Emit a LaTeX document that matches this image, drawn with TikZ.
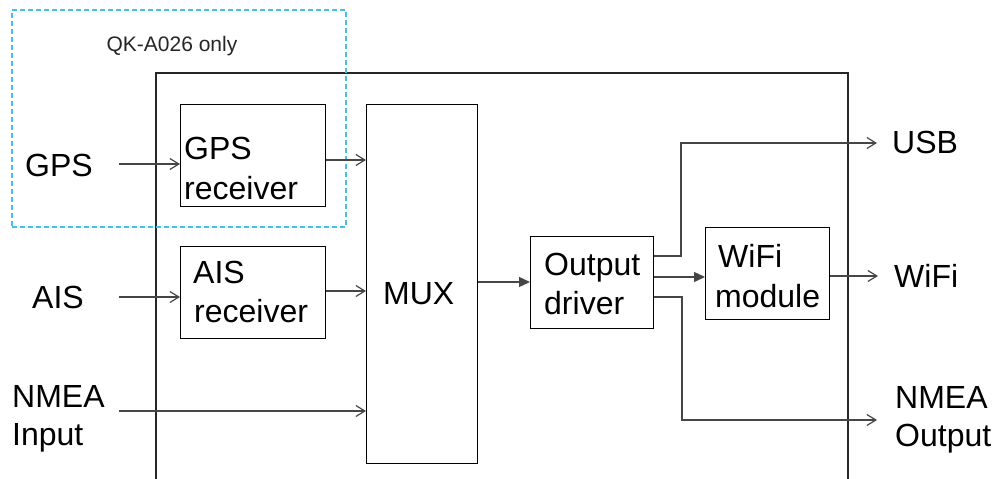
\documentclass[tikz,border=0pt]{standalone}
\usepackage{fontspec}
\setmainfont{Liberation Sans}
\usetikzlibrary{arrows.meta,calc}
\definecolor{dashblue}{RGB}{70,190,240}
\definecolor{linegray}{RGB}{70,70,70}
\begin{document}
\begin{tikzpicture}[x=1pt,y=-1pt,
  box/.style={draw=black,line width=1.2pt,rectangle,inner sep=0pt,anchor=north west},
  txt/.style={inner sep=0pt,anchor=base west,font=\fontsize{32}{38}\selectfont},
  oarrow/.style={draw=linegray,line width=1.3pt,-{Straight Barb[length=9pt,width=11pt,line width=1.2pt]}},
  farrow/.style={draw=linegray,line width=1.3pt,-{Triangle[length=11pt,width=10pt]}},
  wire/.style={draw=linegray,line width=1.3pt}]
\useasboundingbox (0,0) rectangle (996,479);
% outer enclosure (open at bottom)
\draw[draw=black!85,line width=1.3pt] (156,479) -- (156,73) -- (848,73) -- (848,479);
% dashed region
\node[draw=dashblue,dash pattern=on 5pt off 3pt,line width=1.7pt,rectangle,inner sep=0pt,anchor=north west,minimum width=334pt,minimum height=217pt] (qk) at (11,9) {};
\node[inner sep=0pt,anchor=base,font=\fontsize{21}{25}\selectfont,text=black!85] (qklbl) at (172,51) {QK-A026 only};
% boxes
\node[box,minimum width=145pt,minimum height=102pt] (gpsr) at (180,104) {};
\node[box,minimum width=145pt,minimum height=92pt] (aisr) at (180,246) {};
\node[box,minimum width=111pt,minimum height=359pt] (mux) at (366,104) {};
\node[box,minimum width=123pt,minimum height=92pt] (outd) at (530,236) {};
\node[box,minimum width=124pt,minimum height=92pt] (wifim) at (705,227) {};
% box texts
\node[txt] (gpsr1) at (184,159) {GPS};
\node[txt] (gpsr2) at (184,199) {receiver};
\node[txt] (aisr1) at (193,283) {AIS};
\node[txt] (aisr2) at (194,322) {receiver};
\node[txt] (muxt) at (383,304) {MUX};
\node[txt] (outd1) at (544,275) {Output};
\node[txt] (outd2) at (544,314) {driver};
\node[txt] (wifim1) at (718,267) {WiFi};
\node[txt] (wifim2) at (715,307) {module};
% external labels
\node[txt] (gps) at (25,176) {GPS};
\node[txt] (ais) at (32,308) {AIS};
\node[txt] (nmeain1) at (12,407) {NMEA};
\node[txt] (nmeain2) at (12,445) {Input};
\node[txt] (usb) at (892,153) {USB};
\node[txt] (wifi) at (894,287) {WiFi};
\node[txt] (nmeaout1) at (895,408) {NMEA};
\node[txt] (nmeaout2) at (895,446) {Output};
% input connectors
\coordinate (gpsin) at (119,164);
\coordinate (aisin) at (119,297);
\coordinate (nmeain) at (119,411);
\draw[oarrow] (gpsin) -- (gpsin -| gpsr.west);
\draw[oarrow] (aisin) -- (aisin -| aisr.west);
\draw[oarrow] (nmeain) -- (nmeain -| mux.west);
\draw[oarrow] (gpsr.east |- 0,160) -- (mux.west |- 0,160);
\draw[oarrow] (aisr.east |- 0,291) -- (mux.west |- 0,291);
% mux to output driver, to wifi module
\draw[farrow] (mux.east |- 0,282) -- (outd.west |- 0,282);
\draw[farrow] (outd.east |- 0,277) -- (wifim.west |- 0,277);
% outputs
\coordinate (usbend) at (877,143);
\coordinate (wifiend) at (878,276);
\coordinate (nmeaend) at (877,420);
\draw[oarrow] (outd.east |- 0,256) -- (681,256) -- (681,143) -- (usbend);
\draw[oarrow] (wifim.east |- 0,276) -- (wifiend);
\draw[oarrow] (outd.east |- 0,297) -- (682,297) -- (682,420) -- (nmeaend);
\end{tikzpicture}
\end{document}
